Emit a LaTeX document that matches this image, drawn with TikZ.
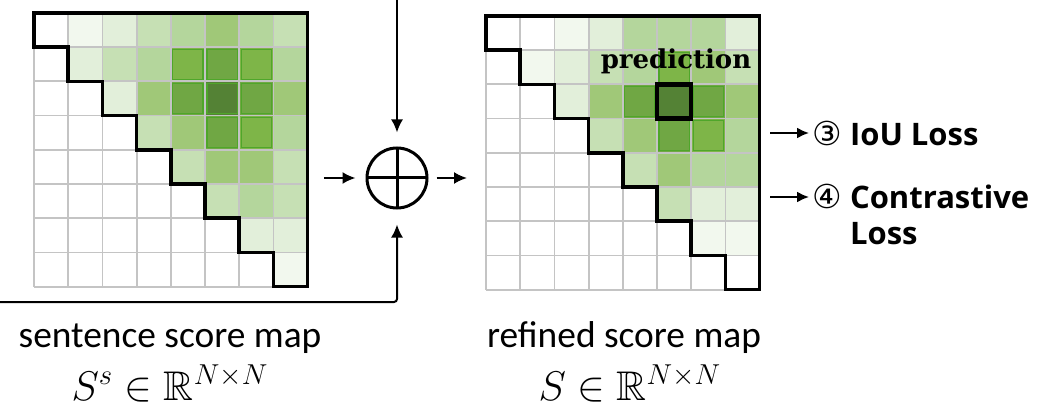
\documentclass[tikz,border=0pt]{standalone}
\usepackage{amsmath,amssymb}
\usepackage[no-math]{fontspec}
\setmainfont{Carlito}
\newfontfamily\losssans{Open Sans}
\newfontfamily\circsym{DejaVu Sans}
\newfontfamily\predserif{DejaVu Serif}
\usepackage{tikz}
\usetikzlibrary{arrows.meta,calc,positioning}
\definecolor{ink}{HTML}{000000}
\definecolor{lv0}{HTML}{FFFFFF}
\definecolor{lv1}{HTML}{F2F8EE}
\definecolor{lv2}{HTML}{E2EFDA}
\definecolor{lv3}{HTML}{C6E0B4}
\definecolor{lv4}{HTML}{B4D69C}
\definecolor{lv5}{HTML}{A0C878}
\definecolor{lv6}{HTML}{7EB548}
\definecolor{lv7}{HTML}{70A744}
\definecolor{lv8}{HTML}{548235}
\definecolor{cellline}{HTML}{C4C4C4}
\definecolor{hotline}{HTML}{4FA62A}
\newcommand\circnum[1]{{\circsym\mdseries\fontsize{16.5}{18}\selectfont#1}}

\begin{document}
\begin{tikzpicture}[x=0.5pt,y=-0.5pt,>=Latex,
  arr/.style={->,line width=1pt,>={Latex[length=6.5pt,width=6pt]}},
  lossarr/.style={->,line width=1pt,>={Latex[length=6pt,width=5.5pt]}},
  cellgrid/.style={cellline,line width=0.9pt},
  stair/.style={ink,line width=1.75pt},
  mapbox/.style={inner sep=0pt,minimum size=136.8pt,anchor=north west},
  losstext/.style={font=\losssans\bfseries\fontsize{15.5}{18}\selectfont,inner sep=1.5pt,anchor=west,align=left}]
\useasboundingbox (0,0) rectangle (1048,406);

% sentence score map
\begin{scope}[shift={(34,13)},x=17.1pt,y=-17.1pt]
\node[mapbox] (smap) at (0,0) {};
\foreach \r/\c/\l in {0/1/1,0/2/2,0/3/3,0/4/4,0/5/5,0/6/4,0/7/3,
  1/1/2,1/2/3,1/3/4,1/4/6,1/5/7,1/6/6,1/7/4,
  2/2/2,2/3/5,2/4/7,2/5/8,2/6/7,2/7/5,
  3/3/3,3/4/5,3/5/7,3/6/6,3/7/4,
  4/4/3,4/5/5,4/6/5,4/7/3,
  5/5/3,5/6/4,5/7/3,
  6/6/2,6/7/2,
  7/7/1}
  \fill[lv\l] (\c,\r) rectangle ++(1,1);
\foreach \i in {0,...,8} {
  \draw[cellgrid] (\i,0) -- (\i,8);
  \draw[cellgrid] (0,\i) -- (8,\i);
}
\foreach \r/\c in {1/4,1/5,1/6,2/4,2/5,2/6,3/5,3/6}
  \draw[hotline,line width=0.6pt] ({\c+0.06},{\r+0.06}) rectangle ({\c+0.94},{\r+0.94});
\draw[stair] (0,0) -| (8,8) -| (7,7) -| (6,6) -| (5,5) -| (4,4) -| (3,3) -| (2,2) -| (1,1) -| (0,0) -- cycle;
\end{scope}

% refined score map
\begin{scope}[shift={(486,16)},x=17.1pt,y=-17.1pt]
\node[mapbox] (rmap) at (0,0) {};
\foreach \r/\c/\l in {0/2/1,0/3/2,0/4/4,0/5/4,0/6/4,0/7/2,
  1/1/1,1/2/2,1/3/3,1/4/4,1/5/6,1/6/5,1/7/3,
  2/2/2,2/3/5,2/4/7,2/5/8,2/6/7,2/7/5,
  3/3/3,3/4/5,3/5/7,3/6/6,3/7/4,
  4/4/3,4/5/5,4/6/4,4/7/4,
  5/5/3,5/6/2,5/7/2,
  6/6/1,6/7/1}
  \fill[lv\l] (\c,\r) rectangle ++(1,1);
\foreach \i in {0,...,8} {
  \draw[cellgrid] (\i,0) -- (\i,8);
  \draw[cellgrid] (0,\i) -- (8,\i);
}
\foreach \r/\c in {1/5,2/4,2/6,3/5,3/6}
  \draw[hotline,line width=0.6pt] ({\c+0.06},{\r+0.06}) rectangle ({\c+0.94},{\r+0.94});
\draw[stair] (0,0) -| (8,8) -| (7,7) -| (6,6) -| (5,5) -| (4,4) -| (3,3) -| (2,2) -| (1,1) -| (0,0) -- cycle;
\draw[ink,line width=2.2pt] (5,2) rectangle (6,3);
\end{scope}
\node[font=\predserif\bfseries\fontsize{13}{15}\selectfont,anchor=base,inner sep=0pt] (pred) at (676,69) {prediction};

% fusion
\node[circle,draw=ink,line width=1.5pt,minimum size=30pt,inner sep=0pt,
  path picture={\draw[ink,line width=1.5pt] (path picture bounding box.north) -- (path picture bounding box.south)
  (path picture bounding box.west) -- (path picture bounding box.east);}] (plus) at (397,178) {};
\coordinate (topin) at (397,0);
\coordinate (botin) at (0,302);
\draw[arr,shorten >=7pt] (topin) -- (plus);
\draw[arr,shorten >=7.5pt,rounded corners=1.5pt] (botin) -| (plus);
\draw[arr,shorten <=7.7pt,shorten >=5pt] (smap.east |- plus) -- (plus);
\draw[arr,shorten <=4pt,shorten >=9.5pt] (plus) -- (rmap.west |- plus);

% losses
\node[losstext] (iou) at (809,133) {\circnum{③} IoU Loss};
\node[losstext] (ctr) at (809,214) {\circnum{④} Contrastive\\\hphantom{\circnum{④} }Loss};
\draw[lossarr,shorten <=5pt] (rmap.east |- iou.west) -- (iou.west);
\draw[lossarr,shorten <=5pt] ([yshift=8.5pt]ctr.west -| rmap.east) -- ([yshift=8.5pt]ctr.west);

% captions
\node[font=\fontsize{18.7}{22}\selectfont,anchor=base,inner sep=0pt] (slabel) at (170,347) {sentence score map};
\node[font=\fontsize{20.74}{24}\selectfont,anchor=base,inner sep=0pt] (smath) at (170,400) {$S^s\in\mathbb{R}^{N\times N}$};
\node[font=\fontsize{18.7}{22}\selectfont,anchor=base,inner sep=0pt] (rlabel) at (624,347) {refined score map};
\node[font=\fontsize{20.74}{24}\selectfont,anchor=base,inner sep=0pt] (rmath) at (630,400) {$S\in\mathbb{R}^{N\times N}$};
\end{tikzpicture}
\end{document}
